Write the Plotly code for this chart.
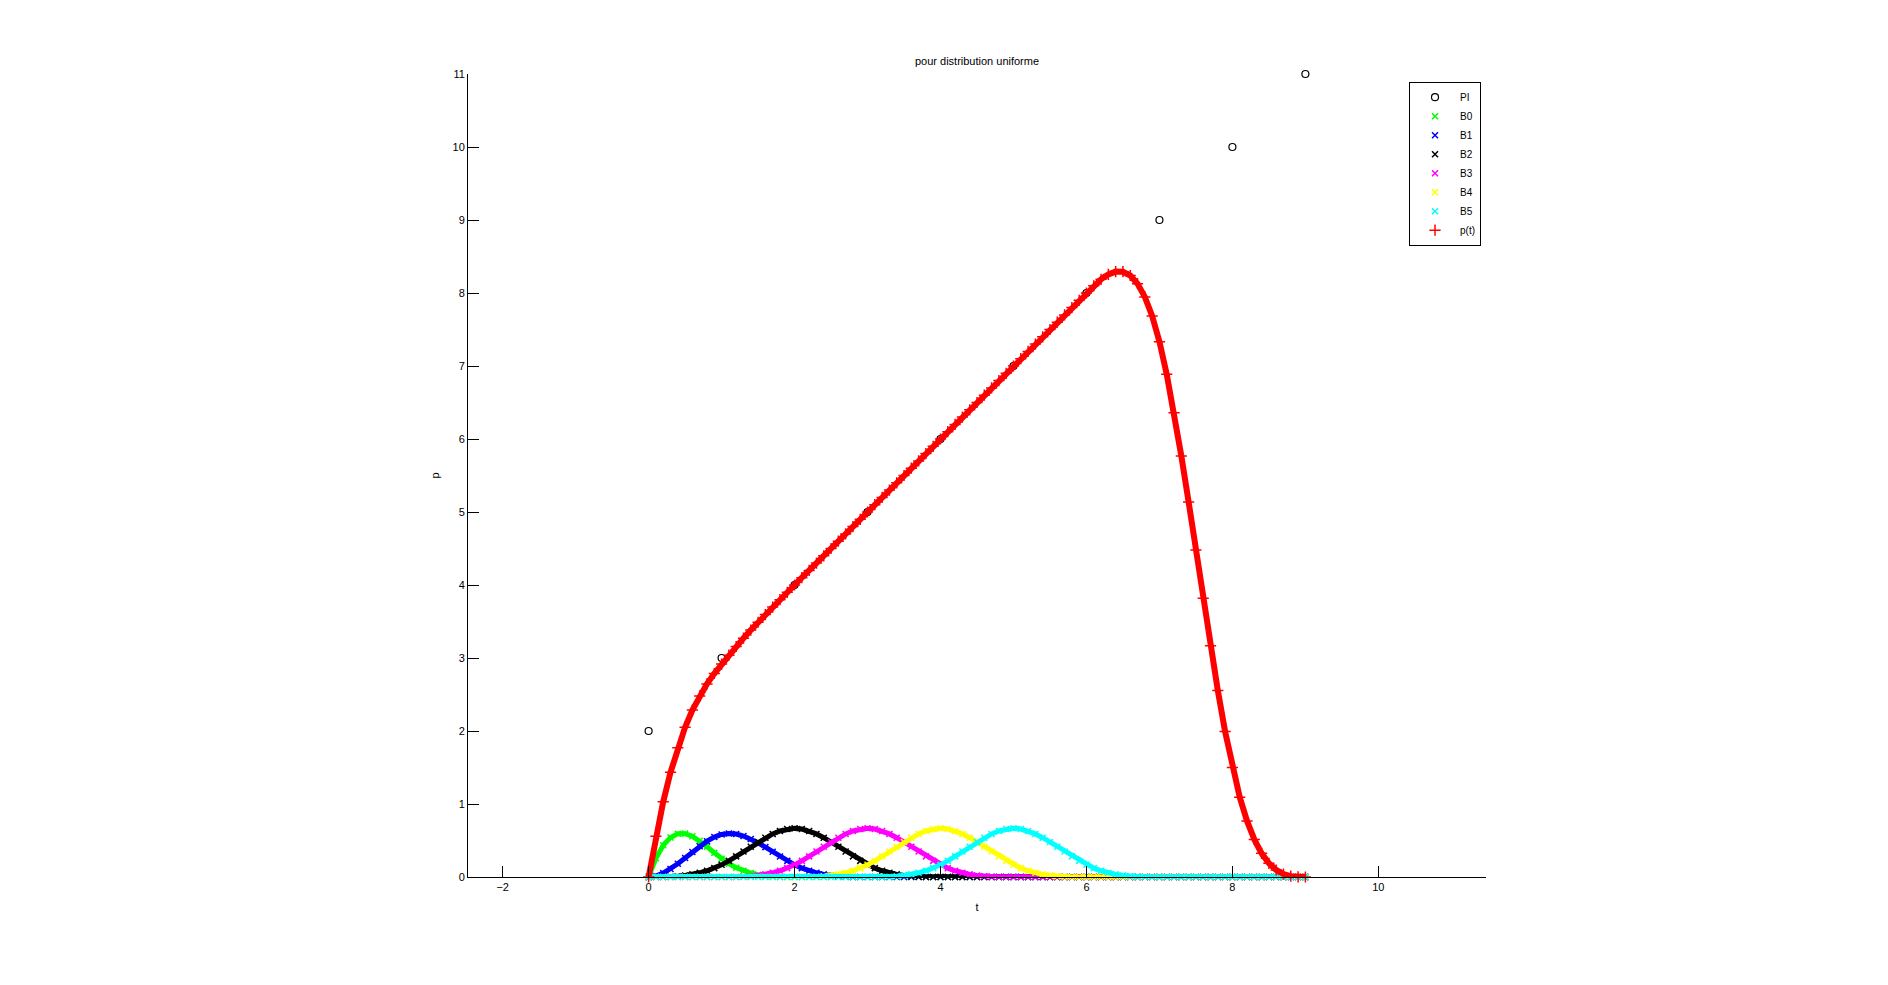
import plotly.graph_objects as go

# ---------------- data ----------------
T = [round(0.1 * i, 1) for i in range(91)]  # sampling of t from 0 to 9

PI_X = [0, 1, 2, 3, 4, 5, 6, 7, 8, 9]
PI_Y = [2, 3, 4, 5, 6, 7, 8, 9, 10, 11]

B0 = [0, .2568, .434, .5423, .592, .5938, .558, .4953, .416, .3308,
      .25, .1823, .128, .0858, .054, .0313, .016, .0068, .002, .0003,
      0, 0, 0, 0, 0, 0, 0, 0, 0, 0,
      0, 0, 0, 0, 0, 0, 0, 0, 0, 0,
      0, 0, 0, 0, 0, 0, 0, 0, 0, 0,
      0, 0, 0, 0, 0, 0, 0, 0, 0, 0,
      0, 0, 0, 0, 0, 0, 0, 0, 0, 0,
      0, 0, 0, 0, 0, 0, 0, 0, 0, 0,
      0, 0, 0, 0, 0, 0, 0, 0, 0, 0, 0]

B1 = [0, .0141, .0527, .1103, .1813, .2604, .342, .4206, .4907, .5468,
      .5833, .5964, .588, .5616, .5207, .4688, .4093, .3459, .282, .2211,
      .1667, .1215, .0853, .0572, .036, .0208, .0107, .0045, .0013, .0002,
      0, 0, 0, 0, 0, 0, 0, 0, 0, 0,
      0, 0, 0, 0, 0, 0, 0, 0, 0, 0,
      0, 0, 0, 0, 0, 0, 0, 0, 0, 0,
      0, 0, 0, 0, 0, 0, 0, 0, 0, 0,
      0, 0, 0, 0, 0, 0, 0, 0, 0, 0,
      0, 0, 0, 0, 0, 0, 0, 0, 0, 0, 0]

B2 = [0, .0002, .0013, .0045, .0107, .0208, .036, .0572, .0853, .1215,
      .1667, .2212, .2827, .3482, .4147, .4792, .5387, .5902, .6307, .6572,
      .6667, .6572, .6307, .5902, .5387, .4792, .4147, .3482, .2827, .2212,
      .1667, .1215, .0853, .0572, .036, .0208, .0107, .0045, .0013, .0002,
      0, 0, 0, 0, 0, 0, 0, 0, 0, 0,
      0, 0, 0, 0, 0, 0, 0, 0, 0, 0,
      0, 0, 0, 0, 0, 0, 0, 0, 0, 0,
      0, 0, 0, 0, 0, 0, 0, 0, 0, 0,
      0, 0, 0, 0, 0, 0, 0, 0, 0, 0, 0]

B3 = [0, 0, 0, 0, 0, 0, 0, 0, 0, 0,
      0, .0002, .0013, .0045, .0107, .0208, .036, .0572, .0853, .1215,
      .1667, .2212, .2827, .3482, .4147, .4792, .5387, .5902, .6307, .6572,
      .6667, .6572, .6307, .5902, .5387, .4792, .4147, .3482, .2827, .2212,
      .1667, .1215, .0853, .0572, .036, .0208, .0107, .0045, .0013, .0002,
      0, 0, 0, 0, 0, 0, 0, 0, 0, 0,
      0, 0, 0, 0, 0, 0, 0, 0, 0, 0,
      0, 0, 0, 0, 0, 0, 0, 0, 0, 0,
      0, 0, 0, 0, 0, 0, 0, 0, 0, 0, 0]

B4 = [0, 0, 0, 0, 0, 0, 0, 0, 0, 0,
      0, 0, 0, 0, 0, 0, 0, 0, 0, 0,
      0, .0002, .0013, .0045, .0107, .0208, .036, .0572, .0853, .1215,
      .1667, .2212, .2827, .3482, .4147, .4792, .5387, .5902, .6307, .6572,
      .6667, .6572, .6307, .5902, .5387, .4792, .4147, .3482, .2827, .2212,
      .1667, .1215, .0853, .0572, .036, .0208, .0107, .0045, .0013, .0002,
      0, 0, 0, 0, 0, 0, 0, 0, 0, 0,
      0, 0, 0, 0, 0, 0, 0, 0, 0, 0,
      0, 0, 0, 0, 0, 0, 0, 0, 0, 0, 0]

B5 = [0, 0, 0, 0, 0, 0, 0, 0, 0, 0,
      0, 0, 0, 0, 0, 0, 0, 0, 0, 0,
      0, 0, 0, 0, 0, 0, 0, 0, 0, 0,
      0, .0002, .0013, .0045, .0107, .0208, .036, .0572, .0853, .1215,
      .1667, .2212, .2827, .3482, .4147, .4792, .5387, .5902, .6307, .6572,
      .6667, .6572, .6307, .5902, .5387, .4792, .4147, .3482, .2827, .2212,
      .1667, .1215, .0853, .0572, .036, .0208, .0107, .0045, .0013, .0002,
      0, 0, 0, 0, 0, 0, 0, 0, 0, 0,
      0, 0, 0, 0, 0, 0, 0, 0, 0, 0, 0]

P = [0, .5566, 1.0314, 1.4335, 1.7706, 2.0521, 2.286, 2.4811, 2.6454, 2.788,
     2.9167, 3.0392, 3.1573, 3.2714, 3.382, 3.4896, 3.5947, 3.6977, 3.7993, 3.8999,
     4.0, 4.1, 4.2, 4.3, 4.4, 4.5, 4.6, 4.7, 4.8, 4.9,
     5.0, 5.1, 5.2, 5.3, 5.4, 5.5, 5.6, 5.7, 5.8, 5.9,
     6.0, 6.1, 6.2, 6.3, 6.4, 6.5, 6.6, 6.7, 6.8, 6.9,
     7.0, 7.1, 7.2, 7.3, 7.4, 7.5, 7.6, 7.7, 7.8, 7.9,
     8.0, 8.0983, 8.1867, 8.255, 8.2933, 8.2917, 8.24, 8.1283, 7.9467, 7.685,
     7.3333, 6.8865, 6.3587, 5.7688, 5.136, 4.4792, 3.8173, 3.1695, 2.5547, 1.9918,
     1.5, 1.0935, .768, .5145, .324, .1875, .096, .0405, .012, .0015, 0]

BASIS = [("B0", B0, "#00ff00"), ("B1", B1, "#0000ff"), ("B2", B2, "#000000"),
         ("B3", B3, "#ff00ff"), ("B4", B4, "#ffff00"), ("B5", B5, "#00ffff")]

X_TICKS = [-2, 0, 2, 4, 6, 8, 10]
Y_TICKS = [0, 1, 2, 3, 4, 5, 6, 7, 8, 9, 10, 11]

FONT = "Liberation Sans, Helvetica, Arial, sans-serif"

# ---------------- figure ----------------
fig = go.Figure()

fig.add_trace(go.Scatter(
    x=PI_X, y=PI_Y, mode="markers", name="PI",
    marker=dict(symbol="circle-open", size=7, color="black", line=dict(width=1.2, color="black")),
    cliponaxis=False))

for name, vals, col in BASIS:
    fig.add_trace(go.Scatter(
        x=T, y=vals, mode="lines", showlegend=False, hoverinfo="skip",
        line=dict(color=col, width=5)))
    fig.add_trace(go.Scatter(
        x=T, y=vals, mode="markers", name=name, cliponaxis=False,
        marker=dict(symbol="x-thin", size=6, color=col, line=dict(width=1.5, color=col))))

fig.add_trace(go.Scatter(
    x=T, y=P, mode="lines", showlegend=False, hoverinfo="skip",
    line=dict(color="#ff0000", width=6)))
fig.add_trace(go.Scatter(
    x=T, y=P, mode="markers", name="p(t)", cliponaxis=False,
    marker=dict(symbol="cross-thin", size=8, color="#ff0000", line=dict(width=1.5, color="#ff0000"))))

axis_common = dict(
    showgrid=False, zeroline=False, showline=True, linecolor="black", linewidth=1,
    ticks="inside", ticklen=11, tickwidth=1, tickcolor="black",
    tickfont=dict(family=FONT, size=11, color="black"), mirror=False)

fig.update_layout(
    width=1888, height=985,
    margin=dict(l=460, r=410, t=66, b=116, autoexpand=False),
    paper_bgcolor="white", plot_bgcolor="white",
    font=dict(family=FONT, size=11, color="black"),
    title=dict(text="pour distribution uniforme", x=0.5, xref="paper", xanchor="center",
               y=1 - 53 / 985, yref="container", yanchor="middle",
               font=dict(family=FONT, size=11, color="black")),
    xaxis=dict(range=[-2.475, 11.475], tickvals=X_TICKS,
               title=dict(text="t", standoff=11, font=dict(family=FONT, size=11)), **axis_common),
    yaxis=dict(range=[0, 11], tickvals=Y_TICKS,
               title=dict(text="p", standoff=10, font=dict(family=FONT, size=11)), **axis_common),
    legend=dict(x=0.9951, xanchor="right", y=0.9904, yanchor="top",
                bordercolor="black", borderwidth=1, bgcolor="white", itemwidth=40,
                font=dict(family=FONT, size=10, color="black")),
    showlegend=True,
)

fig.write_html("out.html")
